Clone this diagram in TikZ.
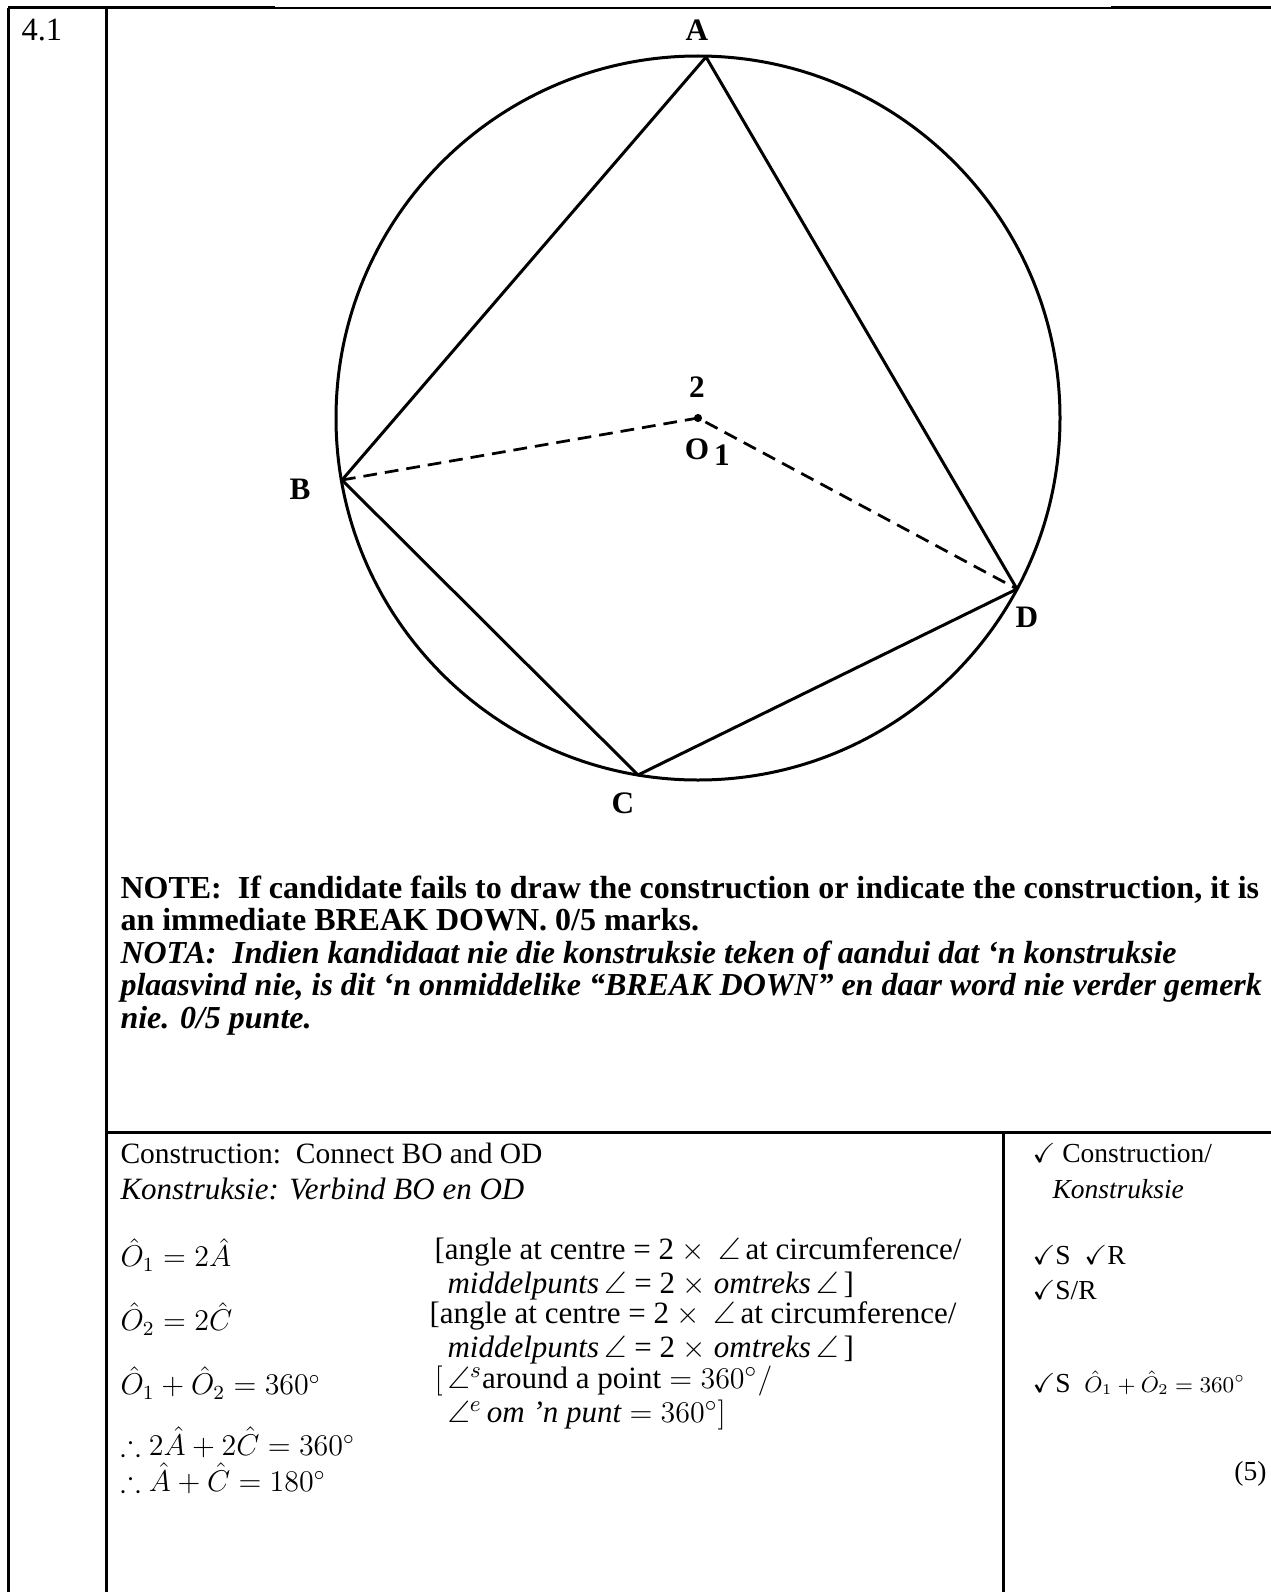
\documentclass[tikz,border=0pt]{standalone}
\usepackage{fontspec}
\usepackage{amsmath,amssymb}
\setmainfont{Liberation Serif}
\begin{document}
\begin{tikzpicture}[x=0.4pt, y=-0.4pt,
        rule/.style={line width=1.2pt},
        geom/.style={line width=1.2pt, line join=round},
        constr/.style={line width=1.1pt, dash pattern=on 5.5pt off 3.2pt},
        ptlabel/.style={font={\bfseries\fontsize{12.5}{14}\selectfont}, inner sep=0pt},
        body/.style={anchor=west, inner sep=0pt, font=\fontsize{12}{14}\selectfont},
        reason/.style={anchor=west, inner sep=0pt, font=\fontsize{12.4}{14}\selectfont},
        marktext/.style={anchor=west, inner sep=0pt, font=\fontsize{11}{13}\selectfont}]
        \useasboundingbox (0,0) rectangle (1271,1592);

        % --- 1. Table rules ---
        \draw[rule] (8,8) -- (275,8);
        \draw[line width=0.7pt] (275,8) -- (1111,8);
        \draw[rule] (1111,8) -- (1271,8);
        \draw[rule] (8,8) -- (8,1592);
        \draw[rule] (106,8) -- (106,1592);
        \draw[rule] (106,1132) -- (1271,1132);
        \draw[rule] (1003,1132) -- (1003,1592);
        \node[body, font=\fontsize{13}{14}\selectfont] (qnum) at (21,30) {4.1};

        % --- 2. Circle with cyclic quad ABCD ---
        \coordinate (O) at (698,418);
        \coordinate (A) at (706,57);
        \coordinate (B) at (342,480);
        \coordinate (C) at (638,775);
        \coordinate (D) at (1017,589);
        \draw[geom] (O) circle[radius=362];
        \draw[geom] (A) -- (D) -- (C) -- (B) -- cycle;
        % Construction BO and OD
        \draw[constr] (B) -- (O) -- (D);
        \filldraw[black] (O) circle[radius=3.5];
        \foreach \p/\x/\y in {A/697/30, B/300/489, C/623/803, D/1027/617, O/697/449} {
            \node[ptlabel] (lbl\p) at (\x,\y) {\p};
        }
        \node[ptlabel] (angone) at (722,455) {1};
        \node[ptlabel] (angtwo) at (697,387) {2};

        % --- 3. Note ---
        \node[anchor=north west, inner sep=0pt, align=left,
              font={\bfseries\fontsize{12.8}{13}\selectfont}] (note) at (120,875)
            {NOTE:\ \ If candidate fails to draw the construction or indicate the construction, it is\\
             an immediate BREAK DOWN. 0/5 marks.\\
             \textit{NOTA:\ \ Indien kandidaat nie die konstruksie teken of aandui dat `n konstruksie}\\
             \textit{plaasvind nie, is dit `n onmiddelike ``BREAK DOWN'' en daar word nie verder gemerk}\\
             \textit{nie. 0/5 punte.}};

        % --- 4. Proof ---
        \node[body, font=\fontsize{11.8}{14}\selectfont] (cons) at (120,1153) {Construction:\ \ Connect BO and OD};
        \node[reason] (konst) at (120,1189) {\textit{Konstruksie: Verbind BO en OD}};
        \node[body] (stepone) at (120,1255) {$\hat{O}_1 = 2\hat{A}$};
        \node[reason] (reasonone) at (434,1252) {[angle at centre = 2 $\times$\ \,$\angle$\,at circumference/};
        \node[reason] (reasononeb) at (447,1286) {\textit{middelpunts}\,$\angle$ = 2 $\times$ \textit{omtreks}\,$\angle$\,]};
        \node[body] (steptwo) at (120,1319) {$\hat{O}_2 = 2\hat{C}$};
        \node[reason] (reasontwo) at (429,1316) {[angle at centre = 2 $\times$\ \,$\angle$\,at circumference/};
        \node[reason] (reasontwob) at (447,1350) {\textit{middelpunts}\,$\angle$ = 2 $\times$ \textit{omtreks}\,$\angle$\,]};
        \node[body] (stepthree) at (120,1383) {$\hat{O}_1 + \hat{O}_2 = 360^\circ$};
        \node[reason] (reasonthree) at (434,1381) {$[\,\angle^{s}\text{around a point} = 360^\circ/$};
        \node[reason] (reasonthreeb) at (447,1415) {$\angle^{e}\,\textit{om 'n punt} = 360^\circ]$};
        \node[body] (stepfour) at (120,1442) {$\therefore 2\hat{A} + 2\hat{C} = 360^\circ$};
        \node[body] (stepfive) at (120,1478) {$\therefore \hat{A} + \hat{C} = 180^\circ$};

        % --- 5. Marks ---
        \node[marktext] (markcons) at (1032,1153) {$\checkmark$ Construction/};
        \node[marktext] (markconsb) at (1052,1189) {\textit{Konstruksie}};
        \node[marktext] (markone) at (1032,1255) {$\checkmark$S\ \ $\checkmark$R};
        \node[marktext] (marktwo) at (1032,1290) {$\checkmark$S/R};
        \node[marktext] (markthree) at (1032,1383) {$\checkmark$S\ \ {\small$\hat{O}_1 + \hat{O}_2 = 360^\circ$}};
        \node[marktext, anchor=east] (total) at (1267,1474) {(5)};
\end{tikzpicture}
\end{document}
